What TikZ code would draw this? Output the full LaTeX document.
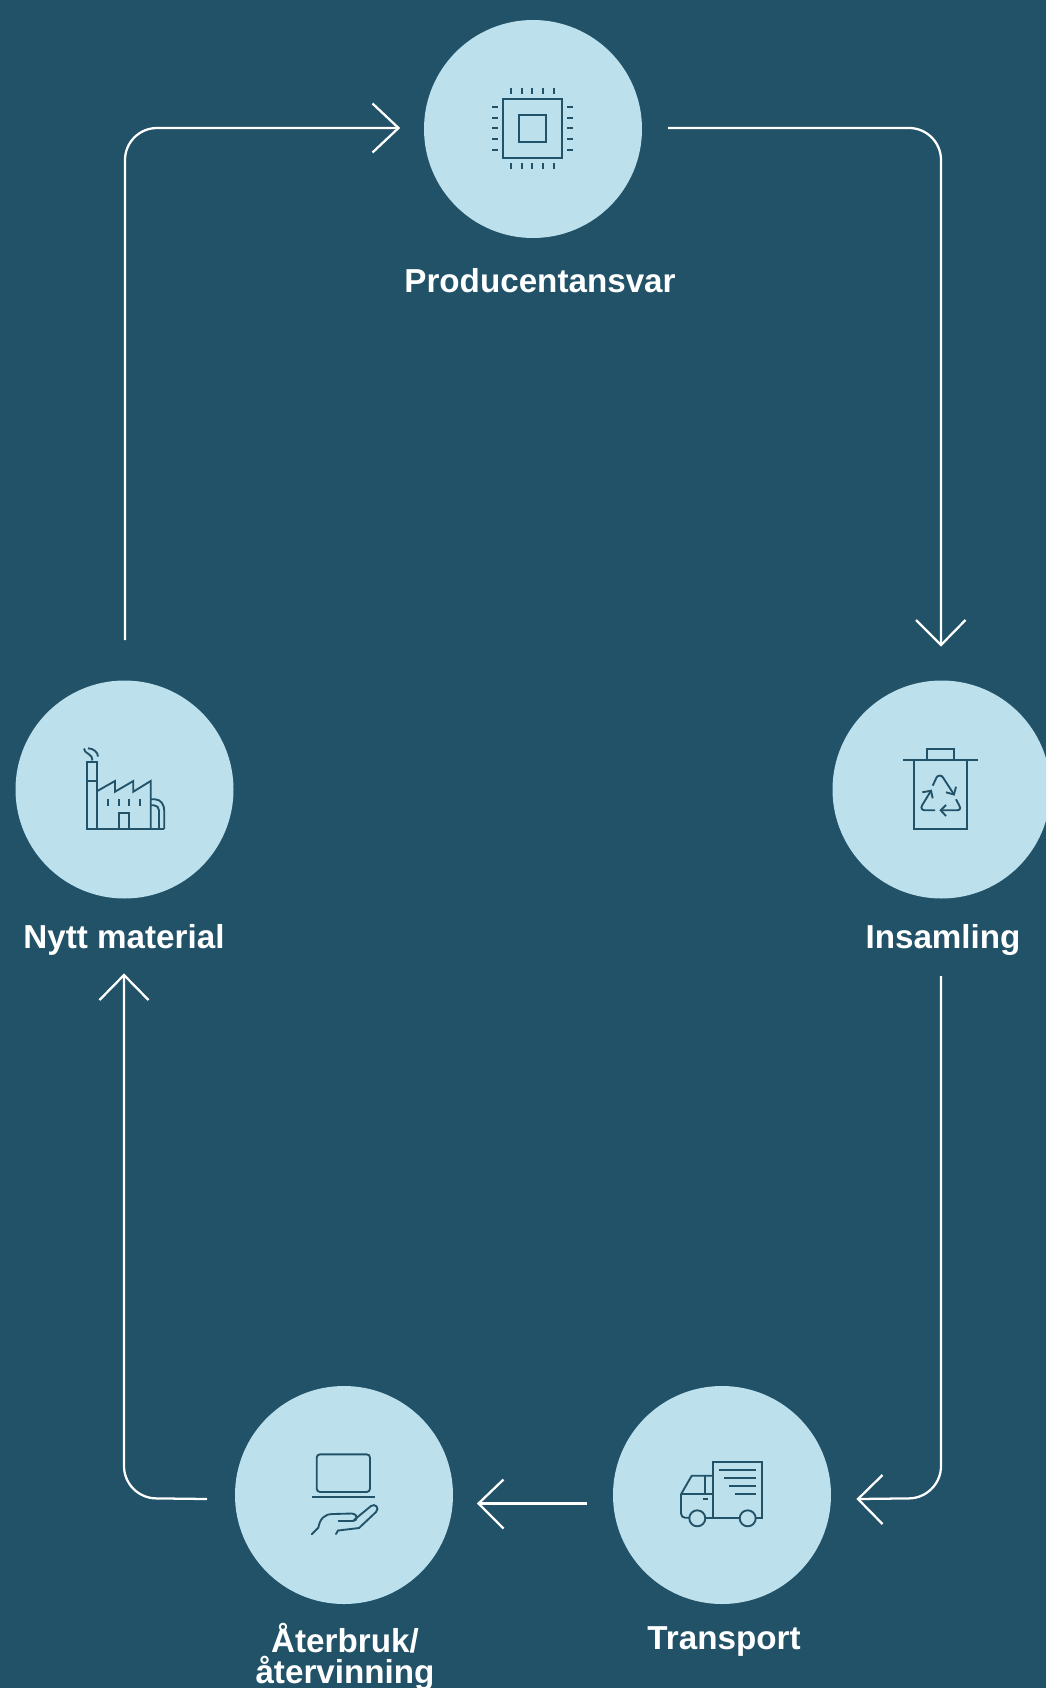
\documentclass[tikz,border=0pt]{standalone}
\usepackage{fontspec}
\setmainfont{Liberation Sans}
\definecolor{bgc}{HTML}{215268}
\definecolor{circ}{HTML}{BCE0EC}
\tikzset{
  x=0.75pt,y=-0.75pt,
  disc/.style={circle,fill=circ,draw=none,minimum size=163.5pt,inner sep=0pt},
  lab/.style={text=white,font=\fontsize{24.9pt}{24pt}\selectfont\bfseries,align=center,inner sep=0pt},
  flow/.style={draw=white,line width=1.7pt,rounded corners=24pt},
  chev/.style={draw=white,line width=1.7pt,line join=miter},
  ico/.style={draw=bgc,line width=1.4pt,line join=miter},
}
\begin{document}
\begin{tikzpicture}
\useasboundingbox[fill=bgc] (0,0) rectangle (1046,1688);
\clip (0,0) rectangle (1046,1688);
\node[disc] (prod) at (533,129) {};
\node[disc] (nytt) at (124.5,789.5) {};
\node[disc] (insa) at (941.5,789.5) {};
\node[disc] (tran) at (722,1495) {};
\node[disc] (ater) at (344,1495) {};
\node[lab] (lprod) at (540,281) {Producentansvar};
\node[lab] (lnytt) at (124,940) {Nytt material};
\node[lab] (linsa) at (943,940) {Insamling};
\node[lab] (ltran) at (724,1642) {Transport};
\node[lab] (later) at (345,1657) {Återbruk/\\[-1pt]återvinning};
% connector ends
\coordinate (a1) at (125,640);
\coordinate (c1) at (125,128);
\coordinate (a2) at (398.5,128);
\coordinate (b1) at (668,128);
\coordinate (c2) at (941,128);
\coordinate (b2) at (941,645);
\coordinate (d1) at (941,976);
\coordinate (c3) at (941,1498);
\coordinate (d2) at (858,1499);
\coordinate (e1) at (587,1503.5);
\coordinate (e2) at (478.5,1503.5);
\coordinate (f1) at (207,1499);
\coordinate (c4) at (124,1498);
\coordinate (f2) at (124,975);
\draw[flow] (a1) -- (c1) -- (a2);
\draw[chev] (372.5,103.5) -- (a2) -- (372.5,152.5);
\draw[flow] (b1) -- (c2) -- (b2);
\draw[chev] (916,620) -- (b2) -- (965.5,620);
\draw[flow] (d1) -- (c3) -- (d2);
\draw[chev] (882.5,1475) -- (d2) -- (882.5,1524);
\draw[flow] (e1) -- (e2);
\draw[chev] (503.5,1479.5) -- (e2) -- (503.5,1528.5);
\draw[flow] (f1) -- (c4) -- (f2);
\draw[chev] (99.5,1000) -- (f2) -- (148.5,1000);
% chip
\draw[ico] (503,99) rectangle (562,158);
\draw[ico] (519,115) rectangle (546,142);
\foreach \p in {511,521.7,532.3,543,553.7}{
  \draw[ico] (\p,88.3) -- (\p,94);
  \draw[ico] (\p,163.3) -- (\p,169);
}
\foreach \p in {107,117.7,128.3,139,149.7}{
  \draw[ico] (492.3,\p) -- (498,\p);
  \draw[ico] (567,\p) -- (572.7,\p);
}
% factory
\draw[ico] (86.7,762.3) rectangle (97.3,829);
\draw[ico] (86.7,780.7) -- (97.3,780.7);
\draw[ico] (86.7,829) -- (164.3,829);
\draw[ico] (97.3,791) -- (115,781) -- (115,791.7) -- (133.3,781) -- (133.3,791.7) -- (150.7,781) -- (150.7,829);
\foreach \p in {108,118.7,129.3,140}{\draw[ico] (\p,799) -- (\p,805.7);}
\draw[ico] (118.7,829) -- (118.7,812.7) -- (129.3,812.7) -- (129.3,829);
\draw[ico] (150.7,799.3) -- (155,799.3) .. controls (161,799.3) and (164.3,805) .. (164.3,811) -- (164.3,829);
\draw[ico] (150.7,805.3) -- (154,805.3) .. controls (157,805.3) and (159,807.5) .. (159,810.5) -- (159,829);
\draw[ico] (92.3,760.5) .. controls (92.5,753) and (84,754) .. (84,748.5);
\draw[ico] (88,748.3) .. controls (93,748.3) and (98,752) .. (98,756.5);
% bin
\draw[ico] (903.3,759.7) -- (977.7,759.7);
\draw[ico] (927,759.7) -- (927,749) -- (954,749) -- (954,759.7);
\draw[ico] (914,759.7) -- (914,829) -- (967.3,829) -- (967.3,759.7);
\draw[ico] (932.7,785.7) -- (936.5,777.5) .. controls (938,775) and (941.5,775) .. (943,777.5) -- (954,794.5);
\draw[ico] (946,792.3) -- (954,794.5) -- (956,786.7);
\draw[ico] (956,799.3) -- (959.5,806) .. controls (961,809) and (959.5,810.3) .. (956.5,810.3) -- (940.7,810.3);
\draw[ico] (946,805) -- (940.7,810.3) -- (946,816);
\draw[ico] (935,810.3) -- (925,810.3) .. controls (922,810.3) and (920.5,808) .. (922,805.5) -- (931,790.7);
\draw[ico] (922.3,792.3) -- (931,790.7) -- (932.7,798.3);
% truck
\draw[ico] (713.3,1517.7) -- (713.3,1461.7) -- (761.7,1461.7) -- (761.7,1517.7) -- (755.7,1517.7);
\draw[ico] (739.7,1517.7) -- (705.3,1517.7);
\foreach \p/\q in {718.7/1470,724/1478.3,729.3/1486.3,734.7/1494.3}{\draw[ico] (\p,\q) -- (755.7,\q);}
\draw[ico] (713.3,1475.7) -- (691.7,1475.7) -- (681,1494.3) -- (681,1513.5) .. controls (681,1516) and (683,1517.7) .. (685,1517.7) -- (689.3,1517.7);
\draw[ico] (705,1475.7) -- (705,1494.3);
\draw[ico] (681,1494.3) -- (713.3,1494.3);
\draw[ico] (702.7,1499.3) -- (708,1499.3);
\draw[ico] (697.3,1518.3) circle[radius=8];
\draw[ico] (747.7,1518.3) circle[radius=8];
% hand and laptop
\draw[ico,rounded corners=2.5pt] (316.7,1454.3) rectangle (370,1492);
\draw[ico] (311.7,1497) -- (375,1497);
\draw[ico,line cap=round] (311.7,1534.3) -- (318.3,1527.7) .. controls (320,1519) and (324,1514) .. (333,1514) -- (352,1513.5) .. controls (358,1513.5) and (358,1521) .. (353,1521) -- (338.5,1521);
\draw[ico,line cap=round] (354,1520) -- (371,1506) .. controls (375,1503) and (380,1508) .. (376,1512) -- (359,1528) -- (338,1530.5) -- (336,1534);
\end{tikzpicture}
\end{document}
